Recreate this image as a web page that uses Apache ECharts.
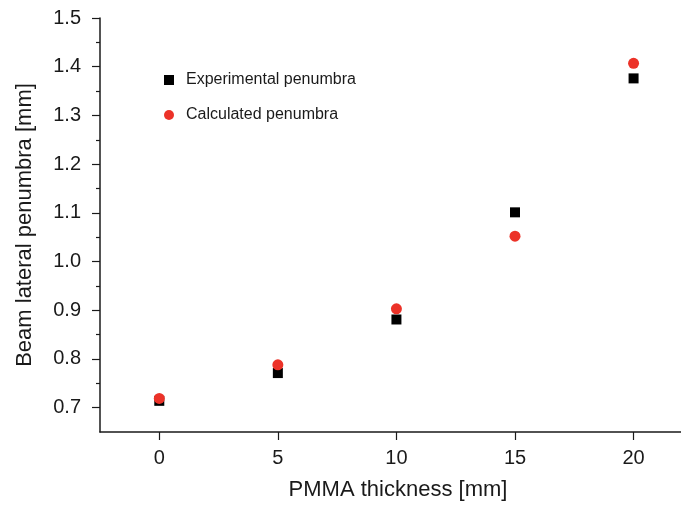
<!DOCTYPE html>
<html>
<head>
<meta charset="utf-8">
<script src="https://cdn.jsdelivr.net/npm/echarts@6/dist/echarts.min.js"></script>
<style>
  html, body { margin: 0; padding: 0; background: #fff; overflow: hidden; }
  #chart { width: 681px; height: 506px; }
</style>
</head>
<body>
<div id="chart"></div>
<script>
// PMMA thickness (mm) at which the penumbra was evaluated
const thickness = [0, 5, 10, 15, 20];
// Beam lateral penumbra (mm)
const experimental = [0.714, 0.771, 0.881, 1.101, 1.376];
const calculated = [0.719, 0.788, 0.903, 1.052, 1.407];

// Axis tick positions
const xTicks = [0, 5, 10, 15, 20];
const yMajorTicks = [0.7, 0.8, 0.9, 1.0, 1.1, 1.2, 1.3, 1.4, 1.5];
const yMinorTicks = [0.75, 0.85, 0.95, 1.05, 1.15, 1.25, 1.35, 1.45];

const font = 'Liberation Sans, Arial, sans-serif';
const ink = '#1a1a1a';

const chart = echarts.init(document.getElementById('chart'), null, { renderer: 'canvas' });

const pairs = (ys) => thickness.map((x, i) => [x, ys[i]]);

chart.setOption({
  animation: false,
  backgroundColor: '#fff',
  grid: { left: 100, right: 0, top: 18, bottom: 72, containLabel: false },
  legend: {
    orient: 'vertical',
    left: 164,
    top: 72,
    padding: 0,
    itemWidth: 10,
    itemHeight: 10,
    itemGap: 19,
    textStyle: { fontFamily: font, fontSize: 16, color: ink, padding: [0, 0, 0, 7] },
    data: [
      { name: 'Experimental penumbra', icon: 'rect' },
      { name: 'Calculated penumbra', icon: 'circle' }
    ]
  },
  xAxis: {
    type: 'value',
    min: -2.5,
    max: 22,
    name: 'PMMA thickness [mm]',
    nameLocation: 'middle',
    nameGap: 47,
    // title sits a little right of the visible axis centre
    nameTextStyle: { fontFamily: font, fontSize: 22, color: ink, padding: [0, 0, 0, 15] },
    axisLine: { show: true, onZero: false, lineStyle: { color: ink, width: 1.5 } },
    axisTick: { show: true, length: 8, customValues: xTicks, lineStyle: { color: ink, width: 1.2 } },
    axisLabel: { customValues: xTicks, margin: 16, fontFamily: font, fontSize: 20, color: ink },
    splitLine: { show: false }
  },
  yAxis: [
    {
      type: 'value',
      min: 0.65,
      max: 1.5,
      name: 'Beam lateral penumbra [mm]',
      nameLocation: 'middle',
      nameGap: 64,
      nameTextStyle: { fontFamily: font, fontSize: 22, color: ink },
      axisLine: { show: true, onZero: false, lineStyle: { color: ink, width: 1.5 } },
      axisTick: { show: true, length: 8, customValues: yMajorTicks, lineStyle: { color: ink, width: 1.2 } },
      axisLabel: {
        customValues: yMajorTicks,
        margin: 19,
        fontFamily: font,
        fontSize: 20,
        color: ink,
        formatter: (v) => v.toFixed(1)
      },
      splitLine: { show: false }
    },
    {
      // minor ticks between the labelled values
      type: 'value',
      min: 0.65,
      max: 1.5,
      position: 'left',
      axisLine: { show: false, onZero: false },
      axisTick: { show: true, length: 4, customValues: yMinorTicks, lineStyle: { color: ink, width: 1.2 } },
      axisLabel: { show: false },
      splitLine: { show: false }
    }
  ],
  series: [
    {
      name: 'Experimental penumbra',
      type: 'scatter',
      symbol: 'rect',
      symbolSize: 10,
      itemStyle: { color: '#000000', opacity: 1 },
      data: pairs(experimental)
    },
    {
      name: 'Calculated penumbra',
      type: 'scatter',
      symbol: 'circle',
      symbolSize: 11,
      itemStyle: { color: '#ec3228', opacity: 1 },
      data: pairs(calculated)
    }
  ]
});
</script>
</body>
</html>
